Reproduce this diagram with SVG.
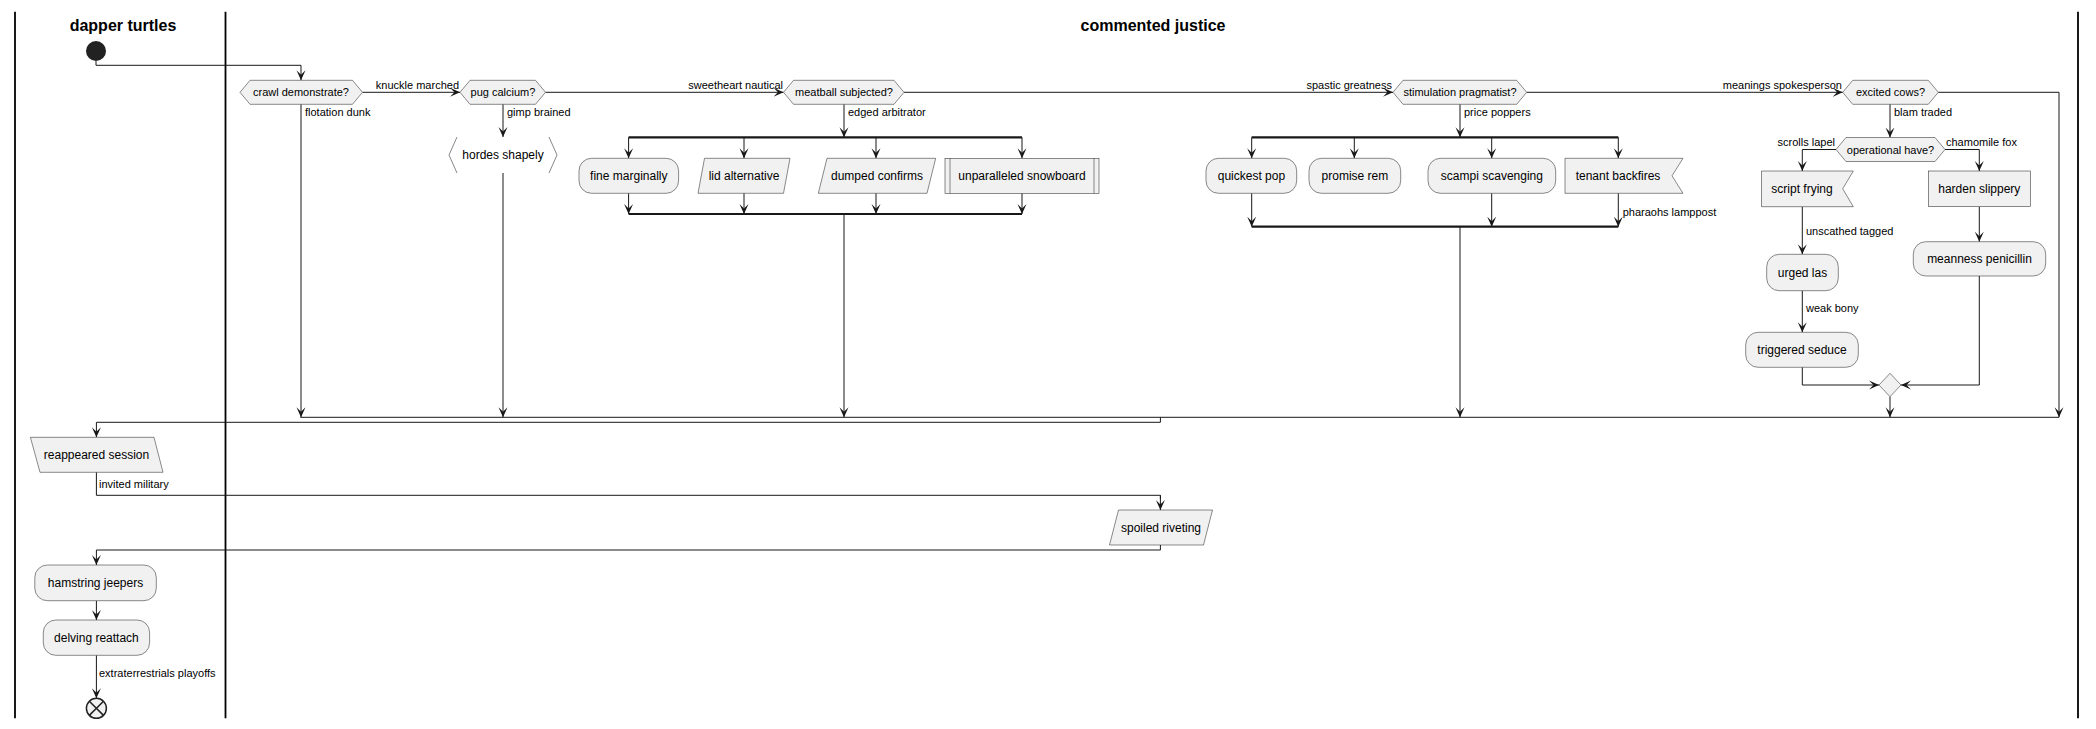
<svg xmlns="http://www.w3.org/2000/svg" width="2096" height="729" viewBox="0 0 2096 729">
<defs>
<marker id="arr" viewBox="-10 -5 11 10" refX="0" refY="0" markerWidth="11" markerHeight="10" markerUnits="userSpaceOnUse" orient="auto">
<path d="M0,0 L-10,-4.5 L-5.5,0 L-10,4.5 Z" fill="#181818"/>
</marker>
</defs>
<style>
.lane{stroke:#000;stroke-width:1.8}
.box{fill:#F1F1F1;stroke:#181818;stroke-width:0.5}
.ln{fill:none;stroke:#181818;stroke-width:1}
.bar{stroke:#181818;stroke-width:2.2}
.ah{marker-end:url(#arr)}
text{font-family:"Liberation Sans",Arial,sans-serif;fill:#000}
.t18{font-size:16px;font-weight:bold}
.t12{font-size:12px;text-anchor:middle}
.t11{font-size:11px;text-anchor:middle}
.lb{font-size:11px}
.lbe{font-size:11px;text-anchor:end}
</style>
<rect width="2096" height="729" fill="#fff"/>
<g id="lanes">
<line class="lane" x1="15" y1="11.7" x2="15" y2="718.3"/>
<line class="lane" x1="225.5" y1="11.7" x2="225.5" y2="718.3"/>
<line class="lane" x1="2078" y1="11.7" x2="2078" y2="718.3"/>
<text class="t18" x="123" y="31" text-anchor="middle">dapper turtles</text>
<text class="t18" x="1153" y="31" text-anchor="middle">commented justice</text>
</g>
<g id="connectors">
<path class="ln ah" d="M96,61 V65.3 H301 V80.3"/>
<path class="ln ah" d="M362.5,92.3 H460"/>
<path class="ln ah" d="M545.5,92.3 H783.5"/>
<path class="ln ah" d="M904,92.3 H1393"/>
<path class="ln ah" d="M1526.7,92.3 H1842.7"/>
<path class="ln ah" d="M1938.3,92.3 H2059 V417.3"/>
<text class="lbe" x="459" y="89">knuckle marched</text>
<text class="lbe" x="783" y="89">sweetheart nautical</text>
<text class="lbe" x="1392" y="89">spastic greatness</text>
<text class="lbe" x="1842" y="89">meanings spokesperson</text>
<path class="ln ah" d="M301,104.3 V417.3"/>
<text class="lb" x="305" y="116">flotation dunk</text>
<path class="ln ah" d="M503,104.3 V137"/>
<text class="lb" x="507" y="116">gimp brained</text>
<path class="ln ah" d="M503,173 V417.3"/>
<path class="ln ah" d="M844,104.3 V137.3"/>
<text class="lb" x="848" y="116">edged arbitrator</text>
<line class="bar" x1="628.6" y1="137.3" x2="1022" y2="137.3"/>
<path class="ln ah" d="M628.6,137.3 V158.3"/>
<path class="ln ah" d="M744,137.3 V158.3"/>
<path class="ln ah" d="M876,137.3 V158.3"/>
<path class="ln ah" d="M1022,137.3 V158.3"/>
<path class="ln ah" d="M628.6,193.3 V214"/>
<path class="ln ah" d="M744,193.3 V214"/>
<path class="ln ah" d="M876,193.3 V214"/>
<path class="ln ah" d="M1022,193.3 V214"/>
<line class="bar" x1="628.6" y1="214" x2="1022" y2="214"/>
<path class="ln ah" d="M844,214 V417.3"/>
<path class="ln ah" d="M1460,104.3 V137.3"/>
<text class="lb" x="1464" y="116">price poppers</text>
<line class="bar" x1="1251.7" y1="137.3" x2="1618.3" y2="137.3"/>
<path class="ln ah" d="M1251.7,137.3 V158.3"/>
<path class="ln ah" d="M1354.3,137.3 V158.3"/>
<path class="ln ah" d="M1491.7,137.3 V158.3"/>
<path class="ln ah" d="M1618.3,137.3 V158.3"/>
<path class="ln ah" d="M1251.7,193.3 V226.7"/>
<path class="ln ah" d="M1491.7,193.3 V226.7"/>
<path class="ln ah" d="M1618.3,193.3 V226.7"/>
<text class="lb" x="1622.7" y="216">pharaohs lamppost</text>
<line class="bar" x1="1251.7" y1="226.7" x2="1618.3" y2="226.7"/>
<path class="ln ah" d="M1460,226.7 V417.3"/>
<path class="ln ah" d="M1890,104.3 V137.5"/>
<text class="lb" x="1894" y="116">blam traded</text>
<path class="ln ah" d="M1836,149.5 H1802.3 V171"/>
<text class="lbe" x="1835" y="146">scrolls lapel</text>
<path class="ln ah" d="M1945,149.5 H1979.3 V171"/>
<text class="lb" x="1946" y="146">chamomile fox</text>
<path class="ln ah" d="M1802.3,206.7 V254.3"/>
<text class="lb" x="1806" y="235">unscathed tagged</text>
<path class="ln ah" d="M1802.3,290.7 V332.3"/>
<text class="lb" x="1806" y="311.7">weak bony</text>
<path class="ln ah" d="M1802.3,367.3 V385 H1879"/>
<path class="ln ah" d="M1979.3,206.7 V241.7"/>
<path class="ln ah" d="M1979.3,276 V385 H1901"/>
<path class="ln ah" d="M1890,396.7 V417.3"/>
<line class="ln" x1="300.4" y1="417.3" x2="2059" y2="417.3"/>
<path class="ln ah" d="M1160.4,417.3 V422.3 H96.4 V437.3"/>
<path class="ln" d="M96.4,472.3 V495.3 H1160.4 V499"/>
<path class="ln ah" d="M1160.4,495.3 V510"/>
<text class="lb" x="99" y="488.3">invited military</text>
<path class="ln ah" d="M1160.4,545 V550 H96.4 V565"/>
<path class="ln ah" d="M96.4,600.7 V620"/>
<path class="ln ah" d="M96.4,655.3 V698.3"/>
<text class="lb" x="99" y="677.3">extraterrestrials playoffs</text>
</g>
<g id="start"><circle cx="96" cy="51" r="10" fill="#222"/></g>
<g id="crawl-demonstrate"><polygon class="box" points="240,92.3 250,80.3 352.5,80.3 362.5,92.3 352.5,104.3 250,104.3"/><text class="t11" x="301" y="96.3">crawl demonstrate?</text></g>
<g id="pug-calcium"><polygon class="box" points="460,92.3 470,80.3 535.5,80.3 545.5,92.3 535.5,104.3 470,104.3"/><text class="t11" x="503" y="96.3">pug calcium?</text></g>
<g id="hordes-shapely"><polyline points="457,137 449,155 457,173" fill="none" stroke="#888" stroke-width="1"/><polyline points="549,137 557,155 549,173" fill="none" stroke="#888" stroke-width="1"/><text class="t12" x="503" y="159.3">hordes shapely</text></g>
<g id="meatball-subjected"><polygon class="box" points="783.5,92.3 793.5,80.3 894,80.3 904,92.3 894,104.3 793.5,104.3"/><text class="t11" x="844" y="96.3">meatball subjected?</text></g>
<g id="fine-marginally"><rect class="box" x="579" y="158.3" width="99.6" height="35" rx="12.5"/><text class="t12" x="628.8" y="180">fine marginally</text></g>
<g id="lid-alternative"><polygon class="box" points="704.5,158.3 790,158.3 783.5,193.3 698,193.3"/><text class="t12" x="744" y="180">lid alternative</text></g>
<g id="dumped-confirms"><polygon class="box" points="827,158.3 935.7,158.3 927,193.3 818.3,193.3"/><text class="t12" x="877" y="180">dumped confirms</text></g>
<g id="unparalleled-snowboard"><rect class="box" x="945" y="158.3" width="154" height="35"/><line class="box" x1="950" y1="158.3" x2="950" y2="193.3"/><line class="box" x1="1094" y1="158.3" x2="1094" y2="193.3"/><text class="t12" x="1022" y="180">unparalleled snowboard</text></g>
<g id="stimulation-pragmatist"><polygon class="box" points="1393,92.3 1403,80.3 1516.7,80.3 1526.7,92.3 1516.7,104.3 1403,104.3"/><text class="t11" x="1460" y="96.3">stimulation pragmatist?</text></g>
<g id="quickest-pop"><rect class="box" x="1206" y="158.3" width="90.7" height="35" rx="12.5"/><text class="t12" x="1251.4" y="180">quickest pop</text></g>
<g id="promise-rem"><rect class="box" x="1309" y="158.3" width="91.7" height="35" rx="12.5"/><text class="t12" x="1354.9" y="180">promise rem</text></g>
<g id="scampi-scavenging"><rect class="box" x="1428" y="158.3" width="127.7" height="35" rx="12.5"/><text class="t12" x="1491.9" y="180">scampi scavenging</text></g>
<g id="tenant-backfires"><polygon class="box" points="1565,158.3 1683,158.3 1672,175.8 1683,193.3 1565,193.3"/><text class="t12" x="1618" y="180">tenant backfires</text></g>
<g id="excited-cows"><polygon class="box" points="1842.7,92.3 1852.7,80.3 1928.3,80.3 1938.3,92.3 1928.3,104.3 1852.7,104.3"/><text class="t11" x="1890.5" y="96.3">excited cows?</text></g>
<g id="operational-have"><polygon class="box" points="1836,149.5 1846,137.5 1935,137.5 1945,149.5 1935,161.5 1846,161.5"/><text class="t11" x="1890.5" y="153.5">operational have?</text></g>
<g id="script-frying"><polygon class="box" points="1761.5,171 1853.3,171 1842.7,188.8 1853.3,206.7 1761.5,206.7"/><text class="t12" x="1802" y="193">script frying</text></g>
<g id="harden-slippery"><rect class="box" x="1928.3" y="171" width="102" height="35.7"/><text class="t12" x="1979.3" y="193">harden slippery</text></g>
<g id="urged-las"><rect class="box" x="1766.7" y="254.3" width="71.6" height="36.4" rx="12.5"/><text class="t12" x="1802.5" y="276.7">urged las</text></g>
<g id="triggered-seduce"><rect class="box" x="1745.7" y="332.3" width="112.6" height="35" rx="12.5"/><text class="t12" x="1802" y="354">triggered seduce</text></g>
<g id="meanness-penicillin"><rect class="box" x="1913.3" y="241.7" width="132.4" height="34.3" rx="12.5"/><text class="t12" x="1979.5" y="263">meanness penicillin</text></g>
<g id="merge"><polygon class="box" points="1890,373.3 1901,385 1890,396.7 1879,385"/></g>
<g id="reappeared-session"><polygon class="box" points="30.4,437.3 154,437.3 163,472.3 40,472.3"/><text class="t12" x="96.5" y="459">reappeared session</text></g>
<g id="spoiled-riveting"><polygon class="box" points="1118.5,510 1212.5,510 1203.5,545 1109.5,545"/><text class="t12" x="1161" y="531.7">spoiled riveting</text></g>
<g id="hamstring-jeepers"><rect class="box" x="34.8" y="565" width="121.5" height="35.7" rx="12.5"/><text class="t12" x="95.5" y="587">hamstring jeepers</text></g>
<g id="delving-reattach"><rect class="box" x="43.3" y="620" width="106.3" height="35.3" rx="12.5"/><text class="t12" x="96.4" y="641.8">delving reattach</text></g>
<g id="end"><circle cx="96.4" cy="708.3" r="10" fill="#F1F1F1" stroke="#222" stroke-width="1.5"/><path d="M89.3,701.2 L103.5,715.4 M103.5,701.2 L89.3,715.4" stroke="#222" stroke-width="1.5"/></g>
</svg>
